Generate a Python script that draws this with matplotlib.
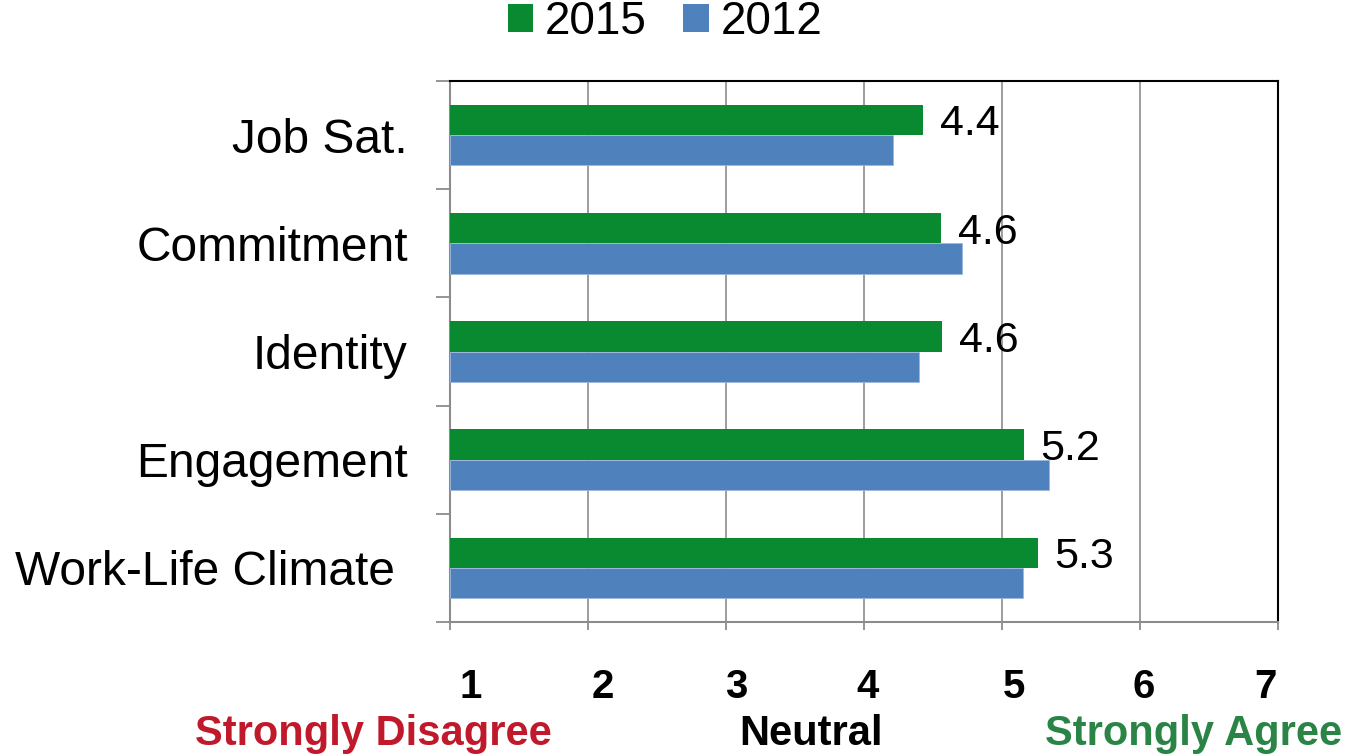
import matplotlib
matplotlib.use('Agg')
import matplotlib.pyplot as plt
from matplotlib.patches import Patch
import matplotlib.transforms as mtransforms

plt.rcParams['font.family'] = ['Liberation Sans', 'DejaVu Sans']

# data
categories = ['Job Sat.', 'Commitment', 'Identity', 'Engagement', 'Work-Life Climate ']
scores_2015 = [4.43, 4.56, 4.57, 5.16, 5.26]
scores_2012 = [4.21, 4.71, 4.40, 5.34, 5.15]
scale_ticks = [1, 2, 3, 4, 5, 6, 7]
anchor_labels = ['Strongly Disagree', 'Neutral', 'Strongly Agree']

green = '#0a8a30'
blue = '#4f81bd'
grid_gray = '#8c8c8c'

fig = plt.figure(figsize=(13.46, 7.56), dpi=100)
ax = fig.add_axes([449.5 / 1346, 1 - 622 / 756, (1278 - 449.5) / 1346, (622 - 81) / 756])

ys = list(range(len(categories)))
bar_h = 0.28
ax.barh([y - bar_h / 2 for y in ys], [v - 1 for v in scores_2015], left=1, height=bar_h,
        color=green, zorder=3)
ax.barh([y + bar_h / 2 for y in ys], [v - 1 for v in scores_2012], left=1, height=bar_h,
        color=blue, edgecolor='#9bb7dc', linewidth=0.6, zorder=3)

# value labels for 2015
for y, v in zip(ys, scores_2015):
    ax.annotate(f'{v:.1f}', xy=(v, y - bar_h / 2), xytext=(12, 0), textcoords='offset points',
                va='center_baseline', ha='left', fontsize=31)

ax.set_xlim(1, 7)
ax.set_ylim(len(categories) - 0.5, -0.5)

ax.set_yticks(ys)
ax.set_yticklabels(categories, fontsize=34.5)
ax.set_yticks([y - 0.5 for y in ys] + [len(categories) - 0.5], minor=True)
ax.tick_params(axis='y', which='major', length=0, pad=30)
ax.tick_params(axis='y', which='minor', length=10, color=grid_gray, width=1.3)

ax.set_xticks(scale_ticks)
ax.set_xticklabels([])
ax.tick_params(axis='x', length=6, color=grid_gray, width=1.3)
ax.grid(axis='x', color=grid_gray, linewidth=1.2, zorder=0)
ax.set_axisbelow(True)

for side in ['left', 'bottom']:
    ax.spines[side].set_color(grid_gray)
    ax.spines[side].set_linewidth(1.5)
for side in ['top', 'right']:
    ax.spines[side].set_color('black')
    ax.spines[side].set_linewidth(1.5)

# scale numbers under the axis (slightly off the ticks, as in the original)
nudges = [0.15, 0.11, 0.08, 0.03, 0.09, 0.03, -0.09]
trans = mtransforms.blended_transform_factory(ax.transData, fig.transFigure)
for t, dx in zip(scale_ticks, nudges):
    ax.text(t + dx, 1 - 698 / 756, str(t), transform=trans, ha='center', va='baseline',
            fontsize=29, fontweight='bold')

anchor_x = [373 / 1346, 811 / 1346, 1194 / 1346]
anchor_colors = ['#c0192b', 'black', '#2a8446']
for lbl, x, c in zip(anchor_labels, anchor_x, anchor_colors):
    fig.text(x, 1 - 745 / 756, lbl, ha='center', va='baseline', fontsize=30,
             fontweight='bold', color=c)

handles = [Patch(facecolor=green, label='2015'), Patch(facecolor=blue, label='2012')]
fig.legend(handles=handles, loc='upper center', bbox_to_anchor=(665 / 1346, 1.042), ncol=2,
           frameon=False, fontsize=33, handlelength=0.55, handleheight=0.55,
           handletextpad=0.26, columnspacing=0.8, borderpad=0.2)

fig.savefig('out.png', dpi=100)
